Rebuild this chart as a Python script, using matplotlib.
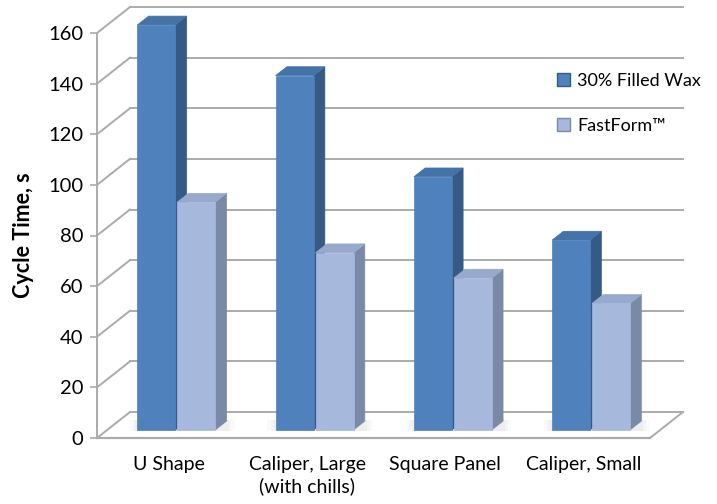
import numpy as np
import matplotlib.pyplot as plt
from matplotlib.patches import Polygon, Patch

# data
categories = ['U Shape', 'Caliper, Large\n(with chills)', 'Square Panel', 'Caliper, Small']
wax = [160, 140, 100, 75]
fastform = [90, 70, 60, 50]
series_names = ['30% Filled Wax', 'FastForm\u2122']
yticks = [0, 20, 40, 60, 80, 100, 120, 140, 160]

plt.rcParams['font.family'] = ['Lato', 'DejaVu Sans']

# face colours: front, side, top
dark = ('#4f81bd', '#345a85', '#4473a8')
light = ('#a6b9dc', '#7a8aa6', '#97aace')
grid_c = '#ababab'

fig = plt.figure(figsize=(7.17, 5.04), dpi=100)
ax = fig.add_axes([97 / 717, 66 / 504, 553 / 717, 405 / 504])
ax.set_xlim(0, 4)
ax.set_ylim(0, 160)

# depth of the 3d box in data units
ddx = 33 / 553 * 4
ddy = 26 / 405 * 160

# walls: side-wall diagonals and back-wall gridlines
for v in yticks:
    ax.plot([0, ddx], [v, v + ddy], color=grid_c, lw=1.4, clip_on=False, zorder=1)
    ax.plot([ddx, 4 + ddx], [v + ddy, v + ddy], color=grid_c, lw=1.4, clip_on=False, zorder=1)
# floor
ax.plot([4, 4 + ddx], [0, ddy], color=grid_c, lw=1.4, clip_on=False, zorder=1)
ax.plot([0, 4], [0, 0], color=grid_c, lw=1.6, clip_on=False, zorder=1)

# bars sit between these depth fractions
f0, f1 = 0.31, 0.65
w = 0.275
offsets = [-0.282, 0.007]


def bar3d(x, h, cols):
    x0 = x + f0 * ddx
    y0 = f0 * ddy
    sx = (f1 - f0) * ddx
    sy = (f1 - f0) * ddy
    # soft shadow on the floor
    for k, a in [(0.06, 0.03), (0.035, 0.04), (0.015, 0.05)]:
        ax.add_patch(Polygon([(x0 - k, y0 - 0.5), (x0 + w + sx + k, y0 - 0.5),
                              (x0 + w + sx + k, y0 + sy + 0.5), (x0 - k, y0 + sy + 0.5)],
                             closed=True, facecolor='#707070', edgecolor='none',
                             alpha=a, clip_on=False, zorder=2))
    side = Polygon([(x0 + w, y0), (x0 + w + sx, y0 + sy),
                    (x0 + w + sx, y0 + sy + h), (x0 + w, y0 + h)],
                   closed=True, facecolor=cols[1], edgecolor=cols[1], lw=0.5,
                   clip_on=False, zorder=3)
    top = Polygon([(x0, y0 + h), (x0 + w, y0 + h), (x0 + w + sx, y0 + sy + h),
                   (x0 + sx, y0 + sy + h)],
                  closed=True, facecolor=cols[2], edgecolor=cols[2], lw=0.5,
                  clip_on=False, zorder=3)
    front = Polygon([(x0, y0), (x0 + w, y0), (x0 + w, y0 + h), (x0, y0 + h)],
                    closed=True, facecolor=cols[0], edgecolor=cols[0], lw=0.5,
                    clip_on=False, zorder=3)
    ax.add_patch(side)
    ax.add_patch(top)
    ax.add_patch(front)


for i in range(len(categories)):
    bar3d(i + 0.5 + offsets[0], wax[i], dark)
    bar3d(i + 0.5 + offsets[1], fastform[i], light)

# axes styling
for s in ['top', 'right', 'bottom']:
    ax.spines[s].set_visible(False)
ax.spines['left'].set_color(grid_c)
ax.spines['left'].set_linewidth(1.4)
ax.set_yticks(yticks)
ax.tick_params(axis='y', colors=grid_c, length=5, width=1.2, labelcolor='black',
               labelsize=14.5, pad=5)
ax.set_xticks([i + 0.52 for i in range(len(categories))])
ax.set_xticklabels(categories, fontsize=14, linespacing=1.3, va='top')
ax.tick_params(axis='x', length=0, pad=13)
ax.set_ylabel('Cycle Time, s', fontsize=15.5, fontweight='bold', labelpad=10)

handles = [Patch(facecolor=dark[0], edgecolor=dark[1]),
           Patch(facecolor=light[0], edgecolor=light[1])]
fig.legend(handles, series_names, loc='upper left', bbox_to_anchor=(548 / 717, 1 - 64 / 504),
           frameon=False, fontsize=13, handlelength=0.7, handleheight=0.7,
           handletextpad=0.4, labelspacing=1.6, borderpad=0)

fig.savefig('out.png', dpi=100)
